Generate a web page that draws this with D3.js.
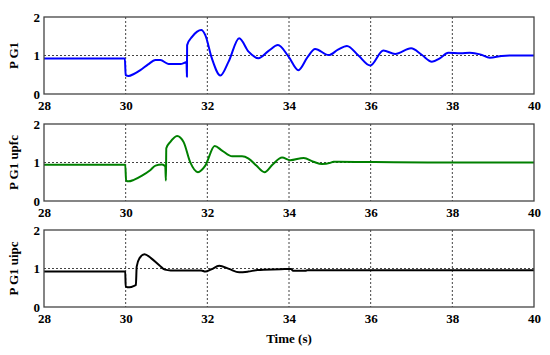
<!DOCTYPE html>
<meta charset="utf-8">
<script src="https://d3js.org/d3.v7.min.js"></script>
<style>
  body { margin: 0; background: #fff; }
  text { font-family: "Liberation Serif", "Times New Roman", serif; font-weight: bold; }
</style>
<body>
<div id="chart"></div>
<script>
// time axis ticks / value ticks
var xTicks = [28, 30, 32, 34, 36, 38, 40];
var yTicks = [0, 1, 2];

// P G1 (no compensation)
var tG1 = [28, 29.98, 30.0, 30.07, 30.2, 30.36, 30.55, 30.73, 30.85, 31.05, 31.34, 31.46, 31.49, 31.5, 31.505,
  31.63, 31.75, 31.85, 31.95, 32.11, 32.32, 32.52, 32.78, 33.01, 33.25, 33.5, 33.73, 33.99, 34.23, 34.45,
  34.64, 34.97, 35.2, 35.42, 35.7, 35.99, 36.31, 36.6, 36.99, 37.25, 37.5, 37.7, 37.9, 38.2, 38.43, 38.68,
  38.92, 39.21, 39.4, 40];
var pG1 = [0.92, 0.92, 0.49, 0.47, 0.52, 0.62, 0.77, 0.88, 0.88, 0.78, 0.78, 0.82, 0.83, 0.45, 1.27,
  1.49, 1.62, 1.66, 1.53, 0.93, 0.48, 0.84, 1.45, 1.10, 0.93, 1.12, 1.27, 0.97, 0.62, 0.95,
  1.17, 1.01, 1.15, 1.25, 1.0, 0.74, 1.13, 1.04, 1.19, 1.02, 0.84, 0.93, 1.07, 1.06, 1.07, 1.03,
  0.94, 0.99, 1.0, 1.0];

// P G1 with UPFC
var tUpfc = [28, 29.99, 30.01, 30.07, 30.2, 30.4, 30.6, 30.73, 30.89, 30.97, 30.985, 30.995, 31.09, 31.26,
  31.42, 31.58, 31.77, 31.95, 32.18, 32.36, 32.61, 32.85, 33.01, 33.2, 33.4, 33.6, 33.83, 34.03, 34.36,
  34.6, 34.81, 35.01, 35.09, 36.1, 37.4, 40];
var pUpfc = [0.94, 0.94, 0.53, 0.51, 0.55, 0.66, 0.80, 0.92, 0.95, 0.90, 0.53, 1.37, 1.53, 1.69,
  1.53, 1.01, 0.75, 0.92, 1.43, 1.31, 1.16, 1.16, 1.10, 0.92, 0.75, 0.95, 1.13, 1.06, 1.12,
  1.02, 0.96, 0.99, 1.02, 1.01, 1.0, 1.0];

// P G1 with UIPC
var tUipc = [28, 29.99, 30.0, 30.09, 30.23, 30.25, 30.27, 30.34, 30.46, 30.62, 30.83, 30.96, 31.1, 31.85,
  31.95, 32.1, 32.29, 32.53, 32.78, 33.0, 33.23, 33.8, 34.05, 34.1, 34.4, 34.45, 40];
var pUipc = [0.92, 0.92, 0.53, 0.51, 0.56, 0.57, 1.05, 1.27, 1.37, 1.27, 1.08, 0.97, 0.95, 0.95,
  0.92, 0.98, 1.07, 0.99, 0.90, 0.92, 0.96, 0.98, 0.99, 0.94, 0.94, 0.955, 0.955];

var panels = [
  { label: "P G1",      t: tG1,   p: pG1,   color: "#0000ff", top: 17 },
  { label: "P G1 upfc", t: tUpfc, p: pUpfc, color: "#008000", top: 124 },
  { label: "P G1 uipc", t: tUipc, p: pUipc, color: "#000000", top: 230 }
];

var W = 550, H = 355;
var left = 44, right = 534, ph = 77;

var svg = d3.select("#chart").append("svg")
  .attr("width", W).attr("height", H);

var x = d3.scaleLinear().domain([28, 40]).range([left, right]);

panels.forEach(function(pn) {
  var y = d3.scaleLinear().domain([0, 2]).range([pn.top + ph, pn.top]);
  var g = svg.append("g");

  // dotted grid
  g.append("g").selectAll("line.v")
    .data(xTicks.slice(1, -1)).enter().append("line")
    .attr("x1", d => x(d)).attr("x2", d => x(d))
    .attr("y1", pn.top).attr("y2", pn.top + ph)
    .attr("stroke", "#444").attr("stroke-width", 1).attr("stroke-dasharray", "2,2");
  g.append("line")
    .attr("x1", left).attr("x2", right)
    .attr("y1", y(1)).attr("y2", y(1))
    .attr("stroke", "#444").attr("stroke-width", 1).attr("stroke-dasharray", "2,2");

  // the trace
  var data = pn.t.map((t, i) => [t, pn.p[i]]);
  g.append("path")
    .datum(data)
    .attr("fill", "none")
    .attr("stroke", pn.color)
    .attr("stroke-width", 2)
    .attr("stroke-linejoin", "round")
    .attr("d", d3.line().x(d => x(d[0])).y(d => y(d[1])).curve(d3.curveMonotoneX));

  // axes
  var xa = g.append("g")
    .attr("transform", "translate(0," + (pn.top + ph) + ")")
    .call(d3.axisBottom(x).tickValues(xTicks).tickSize(0).tickPadding(7).tickFormat(d3.format("d")));
  var ya = g.append("g")
    .attr("transform", "translate(" + left + ",0)")
    .call(d3.axisLeft(y).tickValues(yTicks).tickSize(0).tickPadding(4).tickFormat(d3.format("d")));
  [xa, ya].forEach(function(a) {
    a.select(".domain").remove();
    a.selectAll("text").style("font-size", "13px").attr("fill", "#000");
  });

  // frame
  g.append("rect")
    .attr("x", left).attr("y", pn.top)
    .attr("width", right - left).attr("height", ph)
    .attr("fill", "none").attr("stroke", "#444").attr("stroke-width", 1.3);

  g.append("text")
    .attr("transform", "translate(18," + (pn.top + ph / 2) + ") rotate(-90)")
    .attr("text-anchor", "middle")
    .style("font-size", "13px")
    .text(pn.label);
});

svg.append("text")
  .attr("x", (left + right) / 2).attr("y", 343)
  .attr("text-anchor", "middle")
  .style("font-size", "13px")
  .text("Time (s)");
</script>
</body>
